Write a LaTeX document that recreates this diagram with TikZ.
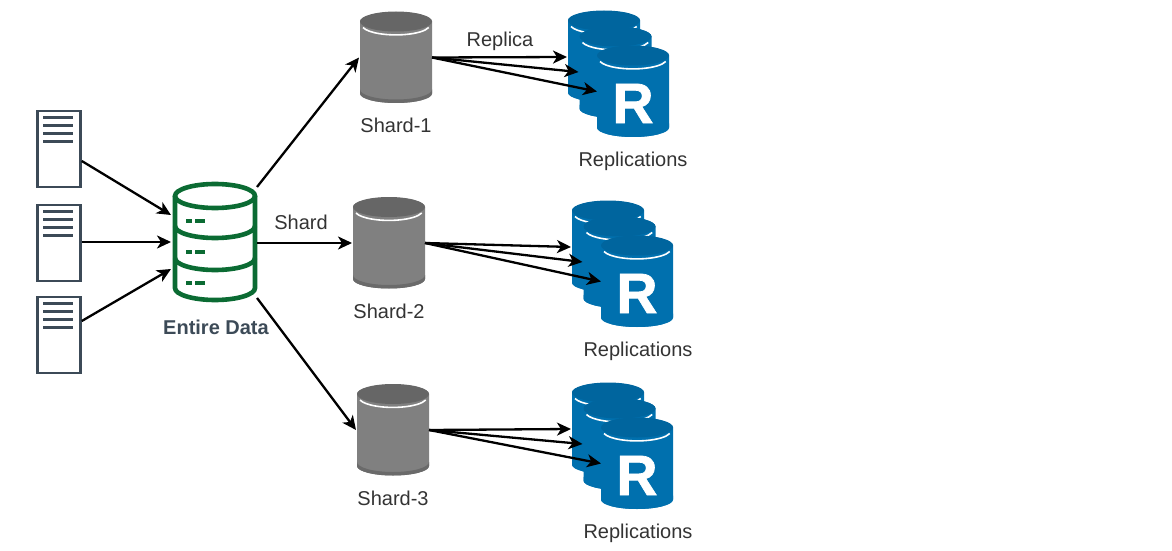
\documentclass[tikz,border=0pt]{standalone}
\usepackage{fontspec}
\setmainfont{Liberation Sans}
\newfontfamily\replfont[UprightFont=* Bold,FakeBold=1.2]{Liberation Sans}
\usetikzlibrary{arrows.meta}
\definecolor{dbgreen}{HTML}{0B6B33}
\definecolor{docgray}{HTML}{3C4A57}
\definecolor{labelgray}{HTML}{333333}
\definecolor{shardside}{HTML}{808080}
\definecolor{shardtop}{HTML}{666666}
\definecolor{shardband}{HTML}{6A6A6A}
\definecolor{replside}{HTML}{0070AE}
\definecolor{repltop}{HTML}{00659E}
\tikzset{
  conn/.style={-{Stealth[length=14pt,width=13pt,inset=4pt]},line width=2.3pt,black},
  docbox/.style={draw=docgray,line width=2.6pt,fill=white,minimum width=43pt,minimum height=76pt,inner sep=0pt},
  docline/.style={docgray,line width=2.6pt},
  lbl/.style={text=labelgray,font=\fontsize{20}{22}\selectfont},
  pics/cyl/.style n args={3}{code={
    \fill[#1] (-36,36) -- (-36,-36) arc[start angle=180,end angle=360,x radius=36,y radius=9.5] -- (36,36) arc[start angle=0,end angle=180,x radius=36,y radius=9.5] -- cycle;
    \fill[#2] (0,36) ellipse[x radius=36,y radius=10];
    \draw[white,line width=1.6pt] (-33,30) arc[start angle=195,end angle=345,x radius=34,y radius=10];
    \fill[#3] (-36,-32) arc[start angle=180,end angle=360,x radius=36,y radius=10] -- (36,-36) arc[start angle=0,end angle=-180,x radius=36,y radius=9.5] -- cycle;
  }},
  pics/shardcyl/.style={code={
    \pic {cyl={shardside}{shardtop}{shardband}};
    \coordinate (-in) at (-37,0);
    \coordinate (-out) at (36,0);
  }},
  pics/replstack/.style={code={
    \pic at (-29,35) {cyl={replside}{repltop}{replside}};
    \pic at (-17.5,19) {cyl={replside}{repltop}{replside}};
    \pic {cyl={replside}{repltop}{replside}};
    \node[white,font=\fontsize{57}{57}\selectfont\replfont] (-r) at (0,-12) {R};
    \coordinate (-a) at (-66,34.5);
    \coordinate (-b) at (-54.5,19.5);
    \coordinate (-c) at (-36,0);
  }},
  pics/datadb/.style={code={
    \draw[dbgreen,line width=4.6pt] (-40,47) -- (-40,-45) arc[start angle=180,end angle=360,x radius=40,y radius=12] -- (40,47);
    \draw[dbgreen,line width=4.6pt] (0,47) ellipse[x radius=40,y radius=12];
    \draw[dbgreen,line width=4.6pt] (-40,17) arc[start angle=180,end angle=360,x radius=40,y radius=12];
    \draw[dbgreen,line width=4.6pt] (-40,-15) arc[start angle=180,end angle=360,x radius=40,y radius=12];
    \foreach \y in {22,-9,-40} {
      \draw[dbgreen,line width=4pt] (-29,\y) -- (-23,\y);
      \draw[dbgreen,line width=4pt] (-20,\y) -- (-10,\y);
    }
    \coordinate (-ina) at (-44,28);
    \coordinate (-inb) at (-44,1);
    \coordinate (-inc) at (-44,-26);
    \coordinate (-outa) at (42,56);
    \coordinate (-outb) at (42,0);
    \coordinate (-outc) at (42,-55);
  }},
}
\begin{document}
\begin{tikzpicture}[x=1pt,y=1pt]
\useasboundingbox (0,0) rectangle (1172,550);
% Documents
\node[docbox] (docA) at (59,401) {};
\node[docbox] (docB) at (59,307) {};
\node[docbox] (docC) at (59,215) {};
\foreach \n in {docA,docB,docC}
  \foreach \d in {8,16,24,32}
    \draw[docline] ([xshift=7pt,yshift=-\d pt]\n.north west) -- ([xshift=37pt,yshift=-\d pt]\n.north west);
% Data
\pic (db) at (215,307) {datadb};
\pic (shardA) at (396,492.5) {shardcyl};
\pic (shardB) at (389,307) {shardcyl};
\pic (shardC) at (393,120) {shardcyl};
\pic (replA) at (633,458.5) {replstack};
\pic (replB) at (637,268.5) {replstack};
\pic (replC) at (637,86.5) {replstack};
% Labels
\node[lbl,text=docgray,font=\fontsize{20}{22}\selectfont\bfseries] (dbLabel) at (216,223) {Entire Data};
\node[lbl] (shardLabel) at (301,328) {Shard};
\node[lbl] (replicaLabel) at (500,508.5) {Replica};
\node[lbl] (shardALabel) at (396,425) {Shard-1};
\node[lbl] (shardBLabel) at (389,239) {Shard-2};
\node[lbl] (shardCLabel) at (393,52) {Shard-3};
\node[lbl] (replALabel) at (633,389) {Replications};
\node[lbl] (replBLabel) at (638,199) {Replications};
\node[lbl] (replCLabel) at (638,17) {Replications};
% Connectors
\draw[conn] ([yshift=-12pt]docA.east) -- (db-ina);
\draw[conn] ([yshift=1pt]docB.east) -- (db-inb);
\draw[conn] ([yshift=14pt]docC.east) -- (db-inc);
\draw[conn] (db-outa) -- (shardA-in);
\draw[conn] (db-outb) -- (shardB-in);
\draw[conn] (db-outc) -- (shardC-in);
\foreach \s/\r in {shardA/replA,shardB/replB,shardC/replC}
  \foreach \t in {a,b,c}
    \draw[conn] (\s-out) -- (\r-\t);
\end{tikzpicture}
\end{document}
